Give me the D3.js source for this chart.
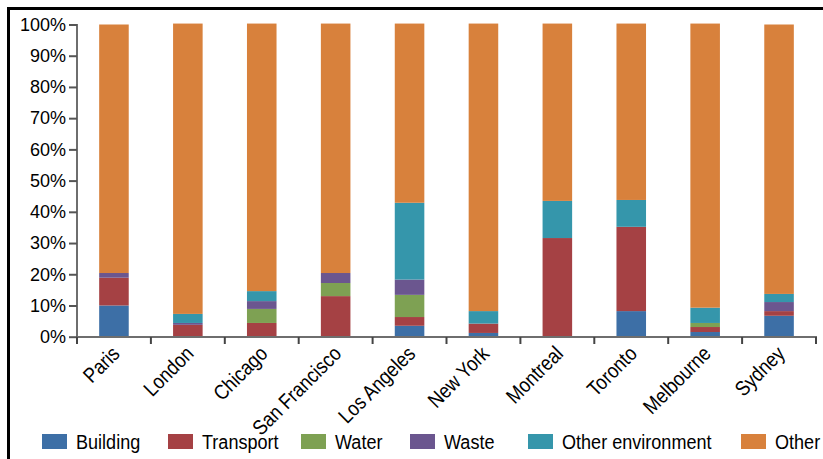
<!DOCTYPE html>
<html>
<head>
<meta charset="utf-8">
<script src="https://cdn.jsdelivr.net/npm/d3@7"></script>
<style>
  body { margin: 0; background: #fff; }
  .narrow { font-family: "Liberation Sans", Arial, sans-serif; }
</style>
</head>
<body>
<div id="chart"></div>
<script>
// categories and series (percent of total)
let cities = ["Paris", "London", "Chicago", "San Francisco", "Los Angeles", "New York", "Montreal", "Toronto", "Melbourne", "Sydney"];
let seriesNames = ["Building", "Transport", "Water", "Waste", "Other environment", "Other"];
let building  = [10.0, 0,    0,    0,    3.5,  1.2, 0,    8.2,  1.5, 6.7];
let transport = [8.9,  3.8,  4.4,  13.0, 2.8,  3.0, 31.6, 27.0, 1.6, 1.5];
let water     = [0,    0,    4.5,  4.2,  7.1,  0,   0,    0,    1.3, 0];
let waste     = [1.5,  0.6,  2.5,  3.2,  4.9,  0,   0,    0,    0,   2.9];
let otherEnv  = [0,    2.9,  3.2,  0,    24.6, 4.0, 11.9, 8.6,  4.9, 2.6];
let other     = [79.6, 93.0, 85.7, 79.9, 57.4, 92.1, 56.8, 56.5, 91.0, 86.3];
let yTicks = [0, 10, 20, 30, 40, 50, 60, 70, 80, 90, 100];
let colors = ["#3d6fa6", "#a54144", "#7ea153", "#6b568f", "#3596ab", "#d8813c"];

// no condensed font installed, so squeeze text horizontally
let squeeze = 0.86;

function chart() {
  let width = 823, height = 459;

  let svg = d3.select("#chart")
    .append("svg")
    .attr("width", width)
    .attr("height", height)

  // outer frame (left and top edges only visible)
  svg.append("path")
    .attr("d", "M8.5," + height + "V8.5H" + width)
    .attr("fill", "none")
    .attr("stroke", "#000")
    .attr("stroke-width", 3)

  // build table for the stack
  let table = cities.map(function(c, i) {
    return {city: c, Building: building[i], Transport: transport[i], Water: water[i],
      Waste: waste[i], "Other environment": otherEnv[i], Other: other[i]};
  });
  let stacked = d3.stack().keys(seriesNames)(table);

  let x = d3.scaleBand()
    .domain(cities)
    .range([77, 816])
    .paddingInner(0.6)
    .paddingOuter(0.3)

  let y = d3.scaleLinear()
    .domain([0, 100])
    .range([336.7, 24.5])

  let color = d3.scaleOrdinal().domain(seriesNames).range(colors);

  // bars
  svg.append("g")
    .selectAll("g")
    .data(stacked)
    .enter()
    .append("g")
    .attr("fill", function(d) { return color(d.key); })
    .selectAll("rect")
    .data(function(d) { return d; })
    .enter()
    .append("rect")
      .attr("x", function(d) { return x(d.data.city); })
      .attr("y", function(d) { return y(d[1]); })
      .attr("width", x.bandwidth())
      .attr("height", function(d) { return Math.max(0, y(d[0]) - y(d[1])); })

  // Y axis
  let yAxis = svg.append("g")
    .attr("transform", "translate(77,0)")
    .call(d3.axisLeft(y).tickValues(yTicks).tickSize(8).tickPadding(3)
      .tickFormat(function(d) { return d + "%"; }))
  yAxis.select(".domain").attr("stroke", "#6e6e6e").attr("stroke-width", 2).attr("d", "M0,24V337");
  yAxis.selectAll(".tick line").attr("stroke", "#555").attr("stroke-width", 2);
  yAxis.selectAll("text")
    .attr("font-family", "'Liberation Sans', Arial, sans-serif")
    .attr("font-size", 18)
    .attr("fill", "#000")

  // X axis: ticks sit between categories
  let step = x.step();
  let bounds = d3.range(cities.length + 1).map(function(i) { return 77 + i * step; });
  let xAxis = svg.append("g").attr("transform", "translate(0," + 337 + ")");
  xAxis.append("line")
    .attr("x1", 77).attr("x2", 817)
    .attr("stroke", "#6e6e6e").attr("stroke-width", 2)
  xAxis.selectAll(".tk")
    .data(bounds)
    .enter()
    .append("line")
    .attr("x1", function(d) { return d; })
    .attr("x2", function(d) { return d; })
    .attr("y1", 0).attr("y2", 7)
    .attr("stroke", "#444").attr("stroke-width", 2)

  // X labels rotated
  xAxis.selectAll(".lbl")
    .data(cities)
    .enter()
    .append("text")
    .attr("class", "narrow")
    .attr("font-size", 21)
    .attr("text-anchor", "end")
    .attr("transform", function(d) {
      return "translate(" + (x(d) + x.bandwidth() / 2 + 7) + ",18) rotate(-45) scale(" + squeeze + ",1)";
    })
    .text(function(d) { return d; })

  // Legend
  let legendX = [42, 168, 301, 410, 528, 741];
  let legend = svg.append("g")
    .selectAll("g")
    .data(seriesNames)
    .enter()
    .append("g")
    .attr("transform", function(d, i) { return "translate(" + legendX[i] + ",434)"; })
  legend.append("rect")
    .attr("width", 25)
    .attr("height", 15)
    .attr("fill", function(d) { return color(d); })
  legend.append("text")
    .attr("class", "narrow")
    .attr("transform", "translate(34,15) scale(" + squeeze + ",1)")
    .attr("font-size", 21)
    .text(function(d) { return d; })
}

chart();
</script>
</body>
</html>
